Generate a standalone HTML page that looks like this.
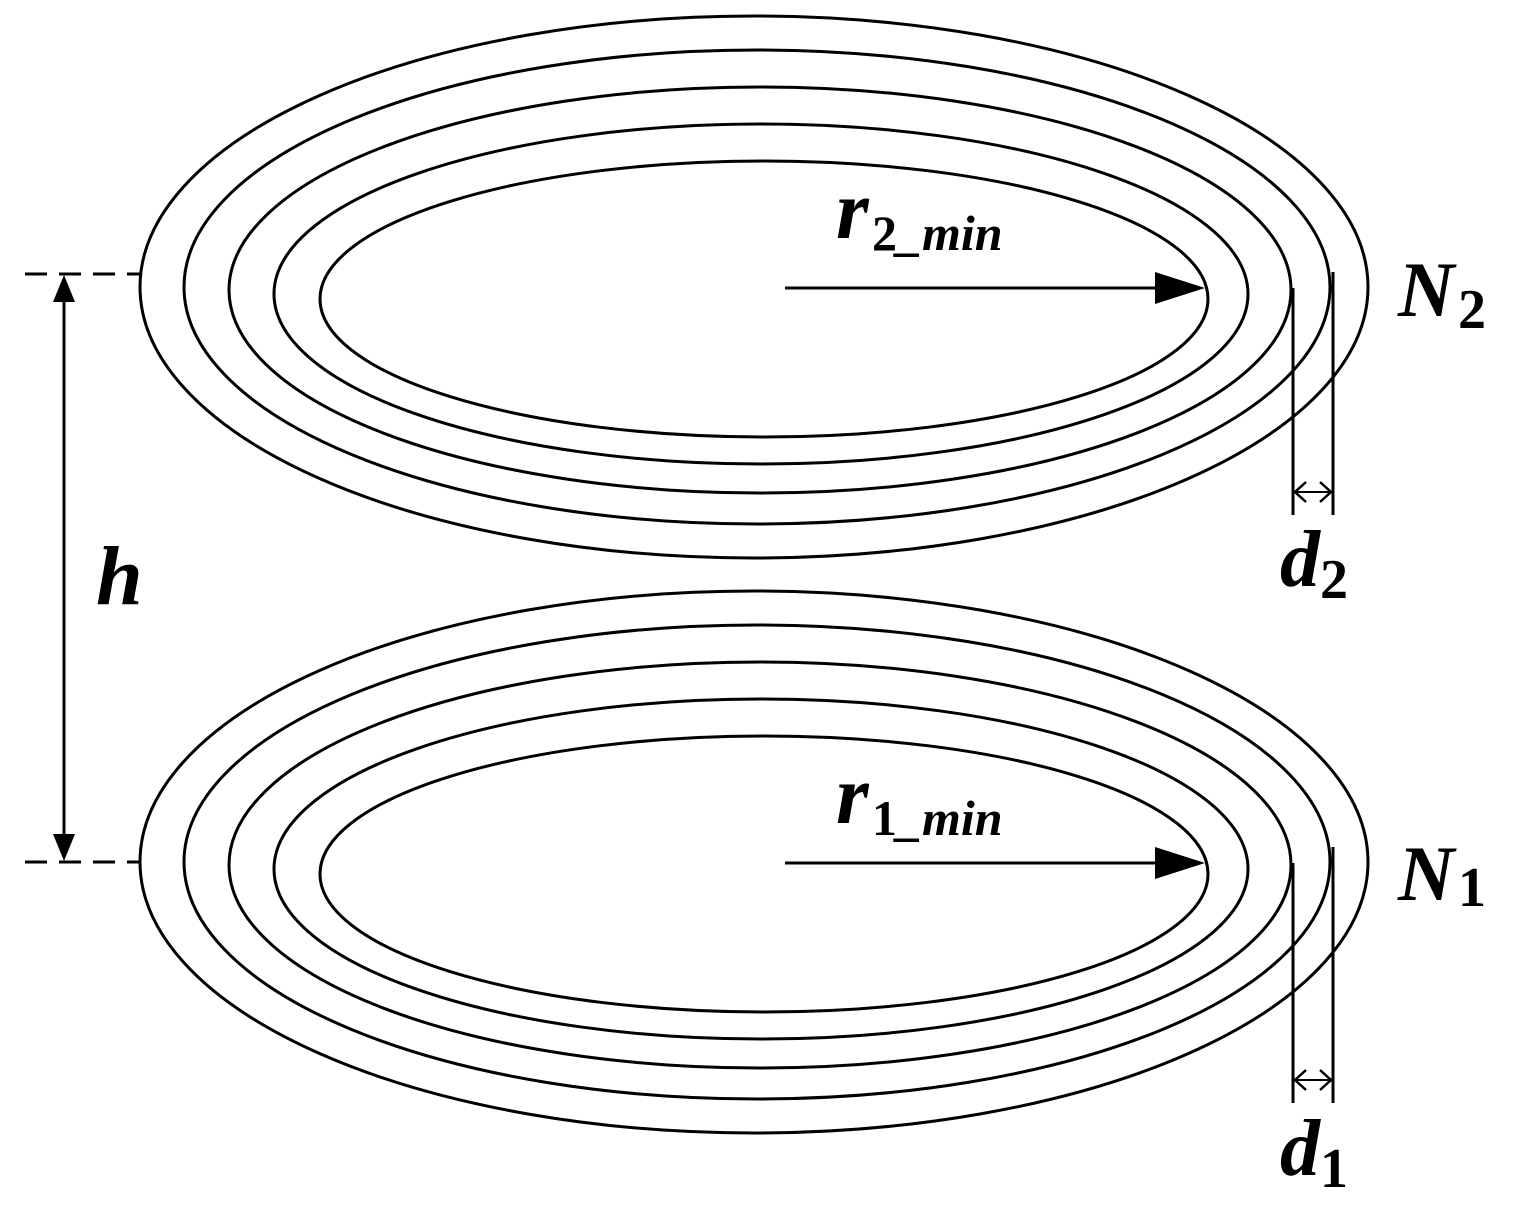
<!DOCTYPE html>
<html><head><style>
body{margin:0;background:#fff;}
svg{display:block;}
text{font-family:"Liberation Serif",serif;font-weight:bold;font-style:italic;fill:#000;}
.up{font-style:normal;}
</style></head><body>
<svg width="1514" height="1209" viewBox="0 0 1514 1209">
<g fill="none" stroke="#000" stroke-width="3">
<ellipse cx="754" cy="287" rx="614" ry="271"/>
<ellipse cx="757" cy="287" rx="573" ry="237"/>
<ellipse cx="760" cy="290" rx="531" ry="203"/>
<ellipse cx="761" cy="294" rx="487" ry="170"/>
<ellipse cx="764" cy="299" rx="444" ry="138"/>
<line x1="1293" y1="288" x2="1293" y2="515"/>
<line x1="1333" y1="272" x2="1333" y2="515"/>
<line x1="785" y1="288" x2="1160" y2="288"/>
</g>
<polygon points="1155,272 1205,288 1155,304" fill="#000"/>
<g transform="translate(0,575)">
<g fill="none" stroke="#000" stroke-width="3">
<ellipse cx="754" cy="287" rx="614" ry="271"/>
<ellipse cx="757" cy="287" rx="573" ry="237"/>
<ellipse cx="760" cy="290" rx="531" ry="203"/>
<ellipse cx="761" cy="294" rx="487" ry="170"/>
<ellipse cx="764" cy="299" rx="444" ry="138"/>
<line x1="1293" y1="288" x2="1293" y2="528"/>
<line x1="1333" y1="272" x2="1333" y2="528"/>
<line x1="785" y1="288" x2="1160" y2="288"/>
</g>
<polygon points="1155,272 1205,288 1155,304" fill="#000"/>
</g>
<path d="M1294,1080 L1332,1080 M1294,492 L1332,492" stroke="#000" stroke-width="2"/>
<path d="M1306,1070 L1295,1080 L1306,1090 M1320,1070 L1331,1080 L1320,1090" fill="none" stroke="#000" stroke-width="2.5"/>
<path d="M1306,482 L1295,492 L1306,502 M1320,482 L1331,492 L1320,502" fill="none" stroke="#000" stroke-width="2.5"/>
<g stroke="#000" stroke-width="3" stroke-dasharray="22,12">
<line x1="25" y1="274" x2="140" y2="274"/>
<line x1="25" y1="862" x2="140" y2="862"/>
</g>
<line x1="64" y1="300" x2="64" y2="836" stroke="#000" stroke-width="3"/>
<polygon points="53,302 64,275 75,302" fill="#000"/>
<polygon points="53,834 64,861 75,834" fill="#000"/>
<text x="836" y="238" font-size="84">r</text>
<text x="872" y="250" font-size="50"><tspan class="up">2</tspan><tspan>_min</tspan></text>
<text x="836" y="823" font-size="84">r</text>
<text x="872" y="835" font-size="50"><tspan class="up">1</tspan><tspan>_min</tspan></text>
<text x="1398" y="316" font-size="78">N</text>
<text x="1458" y="328" font-size="56" class="up">2</text>
<text x="1398" y="900" font-size="78">N</text>
<text x="1458" y="906" font-size="56" class="up">1</text>
<text x="1280" y="586" font-size="80">d</text>
<text x="1320" y="598" font-size="56" class="up">2</text>
<text x="1280" y="1175" font-size="80">d</text>
<text x="1320" y="1187" font-size="56" class="up">1</text>
<text x="96" y="604" font-size="84">h</text>
</svg>
</body></html>
